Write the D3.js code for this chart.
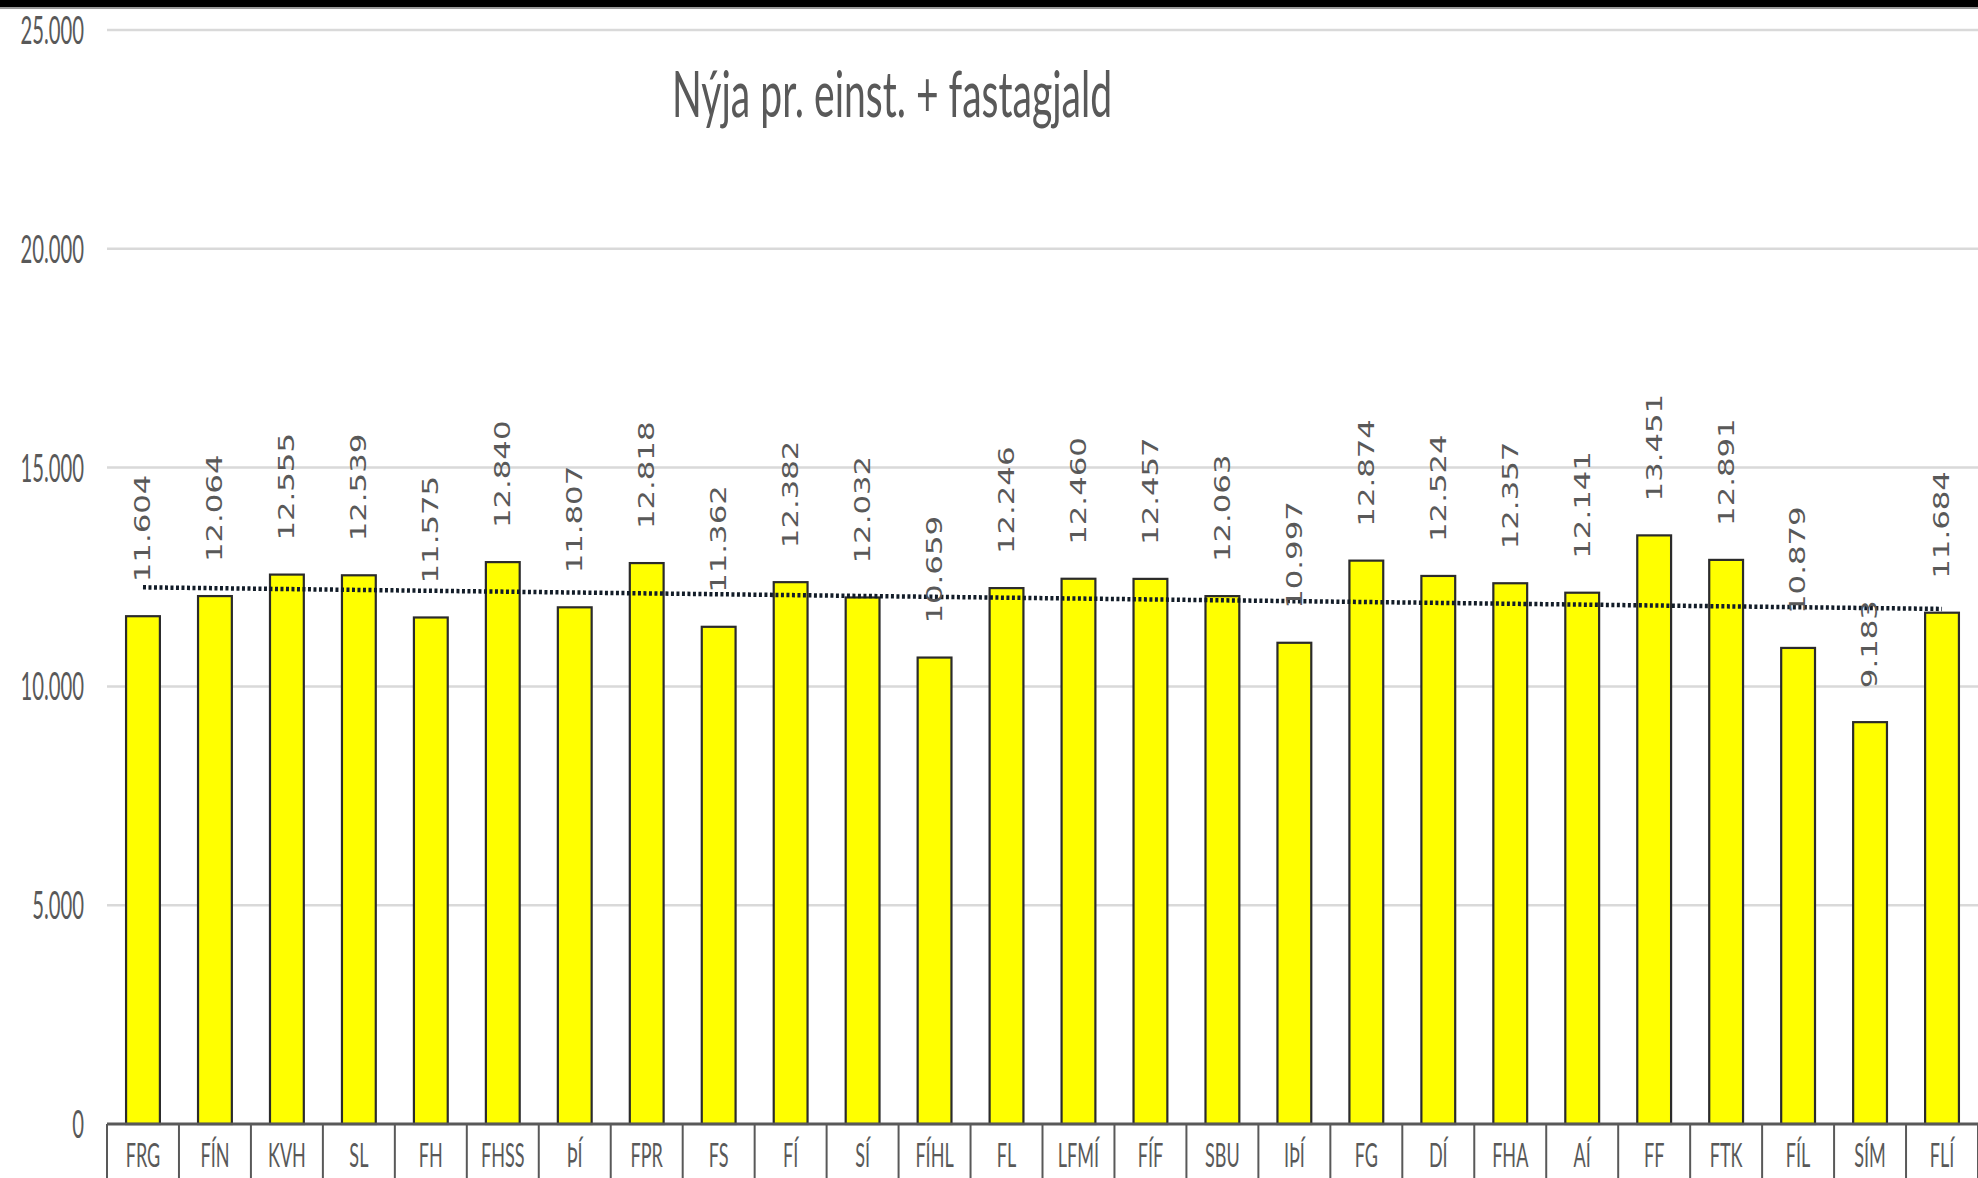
<!DOCTYPE html>
<html><head><meta charset="utf-8">
<script src="https://cdn.jsdelivr.net/npm/d3@7"></script>
<style>html,body{margin:0;padding:0;background:#fff;overflow:hidden}</style>
</head><body>
<svg id="chart" width="1978" height="1178"></svg>
<script>
const categories = ["FRG","FÍN","KVH","SL","FH","FHSS","ÞÍ","FPR","FS","FÍ","SÍ","FÍHL","FL","LFMÍ","FÍF","SBU","IÞÍ","FG","DÍ","FHA","AÍ","FF","FTK","FÍL","SÍM","FLÍ"];
const values = [11604,12064,12555,12539,11575,12840,11807,12818,11362,12382,12032,10659,12246,12460,12457,12063,10997,12874,12524,12357,12141,13451,12891,10879,9183,11684];
const yTicks = [0,5000,10000,15000,20000,25000];
const chartTitle = "Nýja pr. einst. + fastagjald";

(function () {
const W = 1978, H = 1178;
const mLeft = 107, mRight = 1978, mTop = 30, mBottom = 1124;
const svg = d3.select("#chart");
svg.append("rect").attr("width", W).attr("height", H).attr("fill", "#fff");

const loc = d3.formatLocale({decimal: ",", thousands: ".", grouping: [3], currency: ["", ""]});
const fmt = loc.format(",d");

const x = d3.scaleBand().domain(categories).range([mLeft, mRight]).padding(0);
const y = d3.scaleLinear().domain([0, 25000]).range([mBottom, mTop]);

// top black border
svg.append("rect").attr("x", 0).attr("y", 0).attr("width", W).attr("height", 7).attr("fill", "#000");
svg.append("rect").attr("x", 0).attr("y", 7).attr("width", W).attr("height", 2).attr("fill", "#9a9a9a");

// gridlines
svg.append("g").selectAll("line").data(yTicks.filter(d => d > 0)).join("line")
  .attr("x1", mLeft).attr("x2", mRight)
  .attr("y1", d => y(d)).attr("y2", d => y(d))
  .attr("stroke", "#d9d9d9").attr("stroke-width", 2.5);

// y tick labels
svg.append("g").selectAll("text").data(yTicks).join("text")
  .attr("transform", d => `translate(84,${y(d) + 14}) scale(0.78,1.5)`)
  .attr("text-anchor", "end")
  .attr("font-family", "Lato, 'Open Sans', sans-serif")
  .attr("font-size", 26)
  .attr("fill", "#595959")
  .text(d => fmt(d));

// title
svg.append("text")
  .attr("transform", "translate(672,117) scale(0.93,1.5)")
  .attr("font-family", "Lato, 'Open Sans', sans-serif")
  .attr("font-size", 42)
  .attr("fill", "#595959")
  .text(chartTitle);

// bars
const bw = x.bandwidth() * 0.47;
svg.append("g").selectAll("rect").data(values).join("rect")
  .attr("x", (d, i) => x(categories[i]) + x.bandwidth() / 2 - bw / 2)
  .attr("y", d => y(d))
  .attr("width", bw)
  .attr("height", d => y(0) - y(d))
  .attr("fill", "#ffff00")
  .attr("stroke", "#2b2b2b")
  .attr("stroke-width", 2.2);

// linear trendline (least squares on the data)
const n = values.length;
const xs = d3.range(1, n + 1);
const mx = d3.mean(xs), my = d3.mean(values);
const slope = d3.sum(xs, (xi, i) => (xi - mx) * (values[i] - my)) / d3.sum(xs, xi => (xi - mx) ** 2);
const icpt = my - slope * mx;
const trend = [1, n].map(k => ({c: categories[k - 1], v: icpt + slope * k}));
svg.append("path")
  .attr("d", d3.line().x(d => x(d.c) + x.bandwidth() / 2).y(d => y(d.v))(trend))
  .attr("fill", "none")
  .attr("stroke", "#121c28")
  .attr("stroke-width", 4.5)
  .attr("stroke-dasharray", "3,2.5");

// value labels
svg.append("g").selectAll("text").data(values).join("text")
  .attr("transform", (d, i) => `translate(${x(categories[i]) + x.bandwidth() / 2},${y(d) - 34}) scale(1,1.5) rotate(-90)`)
  .attr("dy", "0.36em")
  .attr("text-anchor", "start")
  .attr("font-family", "'DejaVu Sans', Verdana, sans-serif")
  .attr("font-size", 20.5)
  .attr("fill", "#595959")
  .text(d => fmt(d));

// x axis line
svg.append("line").attr("x1", mLeft).attr("x2", mRight).attr("y1", mBottom).attr("y2", mBottom)
  .attr("stroke", "#595959").attr("stroke-width", 3);

// category separators
const bounds = categories.map(c => x(c)).concat([mRight]);
svg.append("g").selectAll("line").data(bounds).join("line")
  .attr("x1", d => d).attr("x2", d => d)
  .attr("y1", mBottom).attr("y2", H)
  .attr("stroke", "#595959").attr("stroke-width", 2);

// category labels
svg.append("g").selectAll("text").data(categories).join("text")
  .attr("transform", d => `translate(${x(d) + x.bandwidth() / 2},1167) scale(0.82,1.5)`)
  .attr("text-anchor", "middle")
  .attr("font-family", "Lato, 'Open Sans', sans-serif")
  .attr("font-size", 22)
  .attr("fill", "#595959")
  .text(d => d);
})();
</script>
</body></html>
